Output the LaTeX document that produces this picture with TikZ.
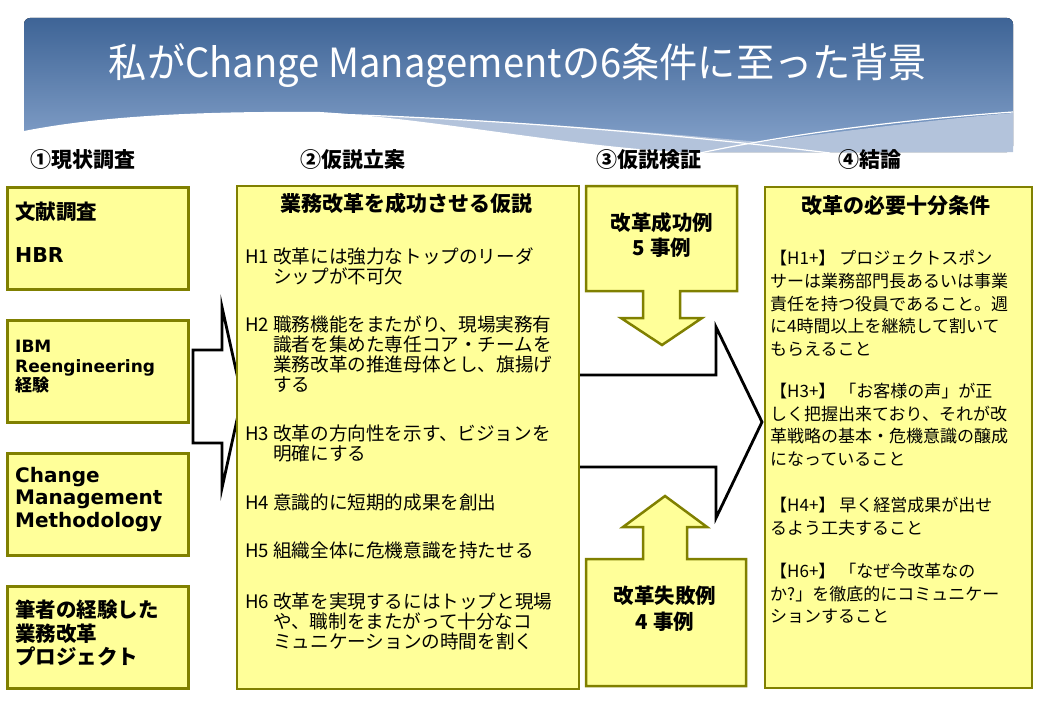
\documentclass[tikz,border=0pt]{standalone}
\usepackage{fontspec}
\usepackage{graphicx}
\usepackage{tikz}
\setmainfont{Noto Sans CJK JP}
\newfontfamily\latinfont{DejaVu Sans}

\definecolor{cardfill}{HTML}{FFFF99}
\definecolor{cardline}{HTML}{808000}
\definecolor{bannertop}{HTML}{3E6496}
\definecolor{bannerlow}{HTML}{86A3CB}
\definecolor{bandblue}{HTML}{B3C3DB}

\tikzset{
  card/.style={rectangle, draw=cardline, fill=cardfill, line width=2.5pt, anchor=north west, inner sep=0pt},
  callout/.style={draw=cardline, fill=cardfill, line width=2.5pt, line join=miter},
  bigarrow/.style={draw=black, fill=white, line width=2.8pt, line join=miter},
  stage/.style={anchor=north west, inner sep=0pt, font=\fontsize{21}{21}\selectfont\bfseries},
  boxhead/.style={anchor=north, inner sep=0pt, align=center, font=\fontsize{21}{25}\selectfont\bfseries},
  leftcap/.style={anchor=north west, inner sep=0pt, align=left},
  hypo/.style={anchor=north west, inner sep=0pt, align=left, font=\fontsize{18.6}{20}\selectfont},
  concl/.style={anchor=north west, inner sep=0pt, align=left, font=\fontsize{17}{22.7}\selectfont}
}

\begin{document}
\begin{tikzpicture}[x=1pt,y=-1pt]
    \useasboundingbox (0,0) rectangle (1040,709);
    \fill[white] (0,0) rectangle (1040,709);

    % title banner
    \fill[top color=bannertop, bottom color=bannerlow, rounded corners=6pt] (24,152) -- (24,18) -- (1013,18) -- (1013,152) -- cycle;
    \fill[bandblue] (330,114) .. controls (520,120) and (680,135) .. (760,142) .. controls (850,130) and (950,118) .. (1013,113) -- (1013,152) -- (24,152) -- cycle;
    \fill[white] (24,131) .. controls (100,116) and (200,111) .. (320,112) .. controls (450,120) and (580,150) .. (720,154) -- (24,154) -- cycle;
    \draw[white, line width=1.2pt] (330,114) .. controls (520,120) and (690,136) .. (830,153);
    \draw[white, line width=1.2pt] (700,153) .. controls (790,134) and (900,120) .. (1013,112);
    \node[inner sep=0pt, text=white] (title) at (518,66) {\resizebox{818pt}{34pt}{\fontsize{38}{38}\selectfont 私がChange Managementの6条件に至った背景}};

    % stages
    \node[stage] (s1) at (30,149) {①現状調査};
    \node[stage] (s2) at (300,149) {②仮説立案};
    \node[stage] (s3) at (596,149) {③仮説検証};
    \node[stage] (s4) at (838,149) {④結論};

    % arrows
    \draw[bigarrow] (193,350) -- (222,350) -- (222,307) -- (242,397) -- (222,488) -- (222,443) -- (193,443) -- cycle;
    \draw[bigarrow] (577,375) -- (716,375) -- (716,327) -- (762,422) -- (716,518) -- (716,467) -- (577,467) -- cycle;

    % left column
    \node[card, minimum width=181pt, minimum height=102pt] (lit) at (6,186) {};
    \node[card, minimum width=181pt, minimum height=102pt] (ibm) at (6,319) {};
    \node[card, minimum width=181pt, minimum height=102pt] (cmm) at (6,452) {};
    \node[card, minimum width=181pt, minimum height=102pt] (own) at (6,585) {};
    \node[leftcap, font=\fontsize{20.5}{43}\selectfont\bfseries] (littext) at (15,202) {文献調査\\\latinfont HBR};
    \node[leftcap, font=\fontsize{17}{19.5}\selectfont\bfseries] (ibmtext) at (15,340) {\latinfont IBM\\\latinfont Reengineering\\\normalfont\bfseries 経験};
    \node[leftcap, font=\fontsize{20}{22.5}\selectfont\bfseries\latinfont] (cmmtext) at (15,467) {Change\\Management\\Methodology};
    \node[leftcap, font=\fontsize{20.5}{23.5}\selectfont\bfseries] (owntext) at (15,600) {筆者の経験した\\業務改革\\プロジェクト};

    % hypotheses
    \node[card, minimum width=342pt, minimum height=503pt] (hyp) at (235.5,184.5) {};
    \node[boxhead] (hyphead) at (406,193) {業務改革を成功させる仮説};
    \node[hypo] (h1) at (245,248) {H1 改革には強力なトップのリーダ\\\hspace*{28pt}シップが不可欠};
    \node[hypo] (h2) at (245,316) {H2 職務機能をまたがり、現場実務有\\\hspace*{28pt}識者を集めた専任コア・チームを\\\hspace*{28pt}業務改革の推進母体とし、旗揚げ\\\hspace*{28pt}する};
    \node[hypo] (h3) at (245,425) {H3 改革の方向性を示す、ビジョンを\\\hspace*{28pt}明確にする};
    \node[hypo] (h4) at (245,494) {H4 意識的に短期的成果を創出};
    \node[hypo] (h5) at (245,542) {H5 組織全体に危機意識を持たせる};
    \node[hypo] (h6) at (245,593) {H6 改革を実現するにはトップと現場\\\hspace*{28pt}や、職制をまたがって十分なコ\\\hspace*{28pt}ミュニケーションの時間を割く};

    % verification
    \draw[callout] (586,186) -- (737,186) -- (737,291) -- (680,291) -- (680,318) -- (702,318) -- (662,345) -- (621,318) -- (643,318) -- (643,291) -- (586,291) -- cycle;
    \draw[callout] (586,686) -- (746,686) -- (746,559) -- (687,559) -- (687,527) -- (707,527) -- (665,496) -- (623,527) -- (643,527) -- (643,559) -- (586,559) -- cycle;
    \node[boxhead, font=\fontsize{20.5}{25}\selectfont\bfseries] (okcase) at (662,212) {改革成功例\\5 事例};
    \node[boxhead, font=\fontsize{20.5}{26}\selectfont\bfseries] (ngcase) at (665,586) {改革失敗例\\4 事例};

    % conclusion
    \node[card, minimum width=267pt, minimum height=501pt] (res) at (763.5,185.5) {};
    \node[boxhead] (reshead) at (896,195) {改革の必要十分条件};
    \node[concl] (c1) at (770,250) {【H1+】 プロジェクトスポン\\サーは業務部門長あるいは事業\\責任を持つ役員であること。週\\に4時間以上を継続して割いて\\もらえること};
    \node[concl] (c3) at (770,383) {【H3+】 「お客様の声」が正\\しく把握出来ており、それが改\\革戦略の基本・危機意識の醸成\\になっていること};
    \node[concl] (c4) at (770,497) {【H4+】 早く経営成果が出せ\\るよう工夫すること};
    \node[concl] (c6) at (770,563) {【H6+】 「なぜ今改革なの\\か?」を徹底的にコミュニケー\\ションすること};
\end{tikzpicture}
\end{document}
